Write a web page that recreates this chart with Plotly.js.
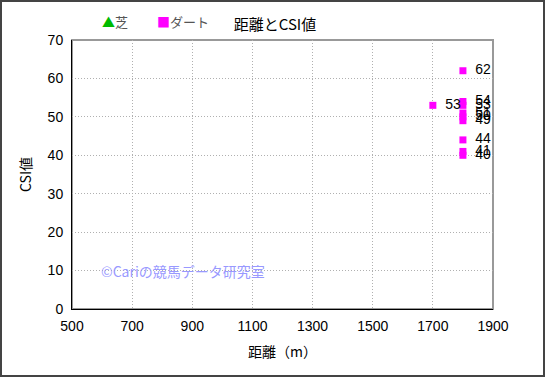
<!DOCTYPE html>
<html><head><meta charset="utf-8">
<script src="https://cdn.plot.ly/plotly-3.0.1.min.js"></script>
<style>
html,body{margin:0;padding:0;background:#fff;}
#wrap{position:relative;width:545px;height:377px;}
#frame{position:absolute;left:0;top:0;width:545px;height:377px;box-sizing:border-box;border:2px solid #444;pointer-events:none;}
</style></head>
<body><div id="wrap"><div id="chart" style="width:545px;height:377px;"></div><div id="frame"></div></div>
<script>
const turfX = [];
const turfY = [];
const dirtX = [1700, 1800, 1800, 1800, 1800, 1800, 1800, 1800, 1800, 1800];
const dirtY = [53, 62, 54, 53, 51, 50, 49, 44, 41, 40];
const xTicks = [500, 700, 900, 1100, 1300, 1500, 1700, 1900];
const yTicks = [0, 10, 20, 30, 40, 50, 60, 70];
const seriesNames = ['芝', 'ダート'];

const font = "Liberation Sans, Noto Sans CJK JP, sans-serif";
const jfont = "Noto Sans CJK JP, sans-serif";
const traces = [
  {x: turfX.length ? turfX : [null], y: turfY.length ? turfY : [null], type: 'scatter', mode: 'markers', name: seriesNames[0],
   marker: {symbol: 'triangle-up', size: 9, color: '#00cc00', line: {color: '#006600', width: 1}}},
  {x: dirtX, y: dirtY, type: 'scatter', mode: 'markers+text', name: seriesNames[1],
   text: dirtY.map(v => '\u2002' + v), textposition: 'middle right',
   textfont: {family: font, size: 14, color: '#000'},
   marker: {symbol: 'square', size: 7, color: '#ff00ff'}}
];
const layout = {
  width: 545, height: 377,
  margin: {l: 72, r: 52, t: 40, b: 68, autoexpand: false},
  paper_bgcolor: '#fff', plot_bgcolor: '#fff',
  font: {family: font, size: 13, color: '#000'},
  title: {text: '距離とCSI値', x: 275/545, xref: 'container', xanchor: 'center', y: 1 - 25/377, yref: 'container', yanchor: 'middle', font: {size: 15, family: jfont, color: '#000'}},
  showlegend: false,
  xaxis: {range: [500, 1900], tickvals: xTicks, ticktext: xTicks.map(String), showgrid: true, gridcolor: '#b0b0b0', griddash: '1px,2px', gridwidth: 1,
          showline: true, linecolor: '#000', linewidth: 1, ticks: 'outside', ticklen: 4, tickcolor: 'rgba(0,0,0,0)', zeroline: false, tickfont: {size: 14},
          title: {text: '距離（m）', font: {size: 14, family: jfont}, standoff: 14}},
  yaxis: {range: [0, 70], tickvals: yTicks, showgrid: true, gridcolor: '#b0b0b0', griddash: '1px,2px', gridwidth: 1,
          showline: true, linecolor: '#000', linewidth: 1, ticks: 'outside', ticklen: 5, tickcolor: 'rgba(0,0,0,0)', zeroline: false, tickfont: {size: 14},
          title: {text: 'CSI値', font: {size: 14, family: jfont}, standoff: 12}},
  shapes: [{type: 'rect', xref: 'paper', yref: 'paper', x0: 0, x1: 1, y0: 0, y1: 1, line: {color: '#999', width: 2}, layer: 'below'}],
  annotations: [
    {text: '©Cariの競馬データ研究室', xref: 'x', yref: 'y', x: 590, y: 10, xanchor: 'left', yanchor: 'middle', showarrow: false,
     font: {size: 14, color: '#9999ff', family: jfont}},
    {text: '<span style="color:#00bb00">▲</span>' + seriesNames[0], xref: 'paper', yref: 'paper', x: (100-72)/421, y: 1 + (40-21)/269, xanchor: 'left', yanchor: 'middle', showarrow: false,
     font: {size: 13, color: '#555', family: jfont}},
    {text: '<span style="color:#ff00ff">■</span>' + seriesNames[1], xref: 'paper', yref: 'paper', x: (155-72)/421, y: 1 + (40-21)/269, xanchor: 'left', yanchor: 'middle', showarrow: false,
     font: {size: 13, color: '#555', family: jfont}}
  ]
};
Plotly.newPlot('chart', traces, layout, {displayModeBar: false, staticPlot: true});
</script></body></html>
